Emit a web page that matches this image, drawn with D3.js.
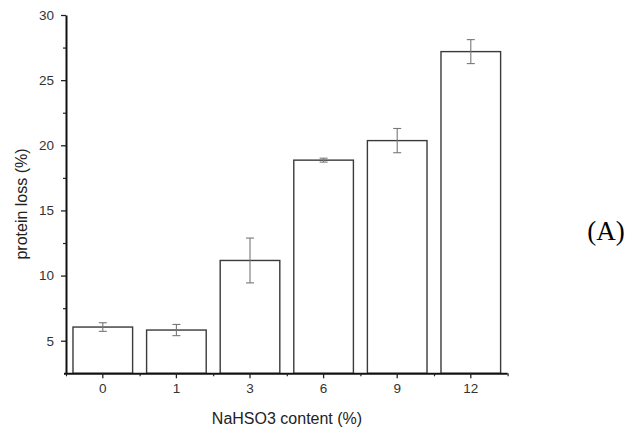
<!DOCTYPE html>
<html>
<head>
<meta charset="utf-8">
<script src="https://cdn.jsdelivr.net/npm/d3@7"></script>
<style>
  html, body { margin: 0; padding: 0; background: #fff; }
  svg { display: block; }
</style>
</head>
<body>
<svg id="chart" width="631" height="434"></svg>
<script>
// NaHSO3 dosage groups and measured protein loss (mean ± error)
const categories = ["0", "1", "3", "6", "9", "12"];
const proteinLoss = [6.05, 5.82, 11.16, 18.86, 20.36, 27.19];
const errors = [0.33, 0.43, 1.72, 0.15, 0.93, 0.92];
const yTicks = [5, 10, 15, 20, 25, 30];
const yMinorTicks = [7.5, 12.5, 17.5, 22.5, 27.5];

const svg = d3.select("#chart");
const plotLeft = 66, plotRight = 507.6, plotTop = 15, plotBottom = 373.3;

const x = d3.scaleBand().domain(categories).range([plotLeft, plotRight]).paddingInner(0.19).paddingOuter(0.095);
const xc = d3.scaleBand().domain(categories).range([plotLeft, plotRight]);
const y = d3.scaleLinear().domain([2.5, 30]).range([plotBottom, plotTop]);

const barColor = "#3a3a3a";
const errColor = "#777";

// bars
svg.append("g").selectAll("rect").data(categories).join("rect")
  .attr("x", d => x(d))
  .attr("y", (d, i) => y(proteinLoss[i]))
  .attr("width", x.bandwidth())
  .attr("height", (d, i) => y(2.5) - y(proteinLoss[i]))
  .attr("fill", "#fff")
  .attr("stroke", barColor)
  .attr("stroke-width", 1.4);

// error bars
const eg = svg.append("g").attr("stroke", errColor).attr("stroke-width", 1.1);
categories.forEach((c, i) => {
  const cx = xc(c) + xc.bandwidth() / 2;
  const hi = y(proteinLoss[i] + errors[i]), lo = y(proteinLoss[i] - errors[i]);
  eg.append("line").attr("x1", cx).attr("x2", cx).attr("y1", hi).attr("y2", lo);
  eg.append("line").attr("x1", cx - 4).attr("x2", cx + 4).attr("y1", hi).attr("y2", hi);
  eg.append("line").attr("x1", cx - 4).attr("x2", cx + 4).attr("y1", lo).attr("y2", lo);
});

const font = "'Liberation Sans', Arial, sans-serif";

// y axis
const yAxis = svg.append("g").attr("transform", `translate(${plotLeft},0)`)
  .call(d3.axisLeft(y).tickValues(yTicks).tickSize(5).tickPadding(7).tickSizeOuter(0));
yAxis.select(".domain").attr("stroke", "#111").attr("stroke-width", 2);
yAxis.selectAll(".tick line").attr("stroke", "#222").attr("stroke-width", 1.3);
yAxis.selectAll(".tick text").attr("font-family", font).attr("font-size", 13.5).attr("fill", "#333");
svg.append("g").attr("transform", `translate(${plotLeft},0)`)
  .call(d3.axisLeft(y).tickValues(yMinorTicks).tickSize(3).tickFormat(""))
  .call(g => g.select(".domain").remove())
  .selectAll(".tick line").attr("stroke", "#222").attr("stroke-width", 1.2);

// x axis: major ticks at group centers, minor ticks at group boundaries
const xAxis = svg.append("g").attr("transform", `translate(0,${plotBottom})`)
  .call(d3.axisBottom(xc).tickSize(5).tickPadding(5).tickSizeOuter(0));
xAxis.select(".domain").attr("stroke", "#111").attr("stroke-width", 2)
  .attr("d", `M${plotLeft - 2},0.5H${plotRight}`);
xAxis.selectAll(".tick line").attr("stroke", "#222").attr("stroke-width", 1.3);
xAxis.selectAll(".tick text").attr("font-family", font).attr("font-size", 13.5).attr("fill", "#333");
const xb = d3.scaleLinear().domain([0, categories.length]).range([plotLeft, plotRight]);
svg.append("g").attr("transform", `translate(0,${plotBottom})`)
  .call(d3.axisBottom(xb).tickValues(d3.range(0, categories.length + 1)).tickSize(3).tickFormat(""))
  .call(g => g.select(".domain").remove())
  .selectAll(".tick line").attr("stroke", "#222").attr("stroke-width", 1.2);

// axis titles
svg.append("text")
  .attr("x", 287).attr("y", 424)
  .attr("text-anchor", "middle")
  .attr("font-family", font).attr("font-size", 16).attr("fill", "#222")
  .text("NaHSO3 content (%)");
svg.append("text")
  .attr("transform", "translate(27,204) rotate(-90)")
  .attr("text-anchor", "middle")
  .attr("font-family", font).attr("font-size", 16).attr("fill", "#222")
  .text("protein loss (%)");

// panel label
svg.append("text")
  .attr("x", 606).attr("y", 240)
  .attr("text-anchor", "middle")
  .attr("font-family", "'Liberation Serif', 'Times New Roman', serif")
  .attr("font-size", 27).attr("fill", "#000")
  .text("(A)");
</script>
</body>
</html>
